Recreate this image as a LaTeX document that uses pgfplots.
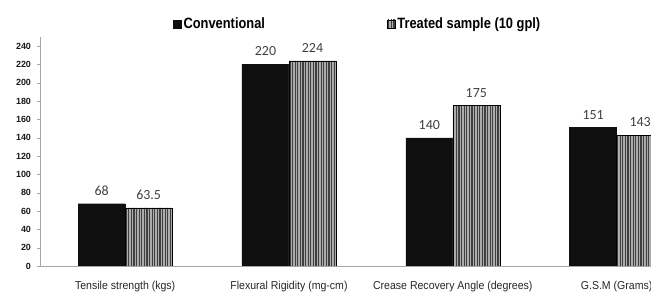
\documentclass[border=0pt]{standalone}
\usepackage{fontspec}
\setmainfont{Liberation Sans}
\newfontfamily\narrow{Liberation Sans}[FakeStretch=0.92]
\newfontfamily\legfont{Liberation Sans}[FakeStretch=0.86]
\newfontfamily\carl{Carlito}
\usepackage{pgfplots}
\pgfplotsset{compat=1.18}
\usetikzlibrary{patterns}
\pgfdeclarepatternformonly{myvlines}{\pgfpoint{-0.1bp}{-0.1bp}}{\pgfpoint{2.7bp}{2.7bp}}{\pgfpoint{2.6bp}{2.6bp}}{\pgfsetlinewidth{1.2bp}\pgfpathmoveto{\pgfpoint{1.3bp}{-0.1bp}}\pgfpathlineto{\pgfpoint{1.3bp}{2.7bp}}\pgfusepath{stroke}}
\definecolor{barblack}{HTML}{0F0F0F}
\begin{document}
\begin{tikzpicture}
\useasboundingbox (0,0) rectangle (651bp,292bp);
\begin{axis}[
  at={(40bp,26bp)}, anchor=south west,
  scale only axis, width=611bp, height=229bp,
  ymin=0, ymax=250, xmin=-0.52, xmax=3.21,
  ybar=0pt, bar width=47bp,
  axis x line*=bottom, axis y line*=left,
  axis line style={gray!70},
  ytick={0,20,...,240},
  xtick={0,1,2,3},
  xticklabels={Tensile strength (kgs), Flexural Rigidity (mg-cm), Crease Recovery Angle (degrees), G.S.M (Grams)},
  x tick style={draw=none},
  y tick style={gray!70},
  tick align=outside, major tick length=3bp,
  /pgf/number format/assume math mode=true,
  yticklabel style={font=\bfseries\fontsize{9}{10}\selectfont, text=black!90, xshift=-2.5bp},
  xticklabel style={font=\narrow\fontsize{11.5}{13}\selectfont, text=black!85, yshift=-9bp},
  nodes near coords,
  every node near coord/.append style={font=\carl\fontsize{14}{16}\selectfont, text=black!75, yshift=5bp},
  legend columns=2,
  legend style={draw=none, fill=none, at={(0.2177,1.057)}, anchor=west,
    font=\legfont\bfseries\fontsize{15}{17}\selectfont, inner sep=0pt,
    /tikz/every even column/.append style={column sep=120bp}},
  legend image code/.code={\draw[#1] (0bp,-4bp) rectangle (8bp,4bp);},
]
\addplot[fill=barblack, draw=barblack] coordinates {(0,68) (1,220) (2,140) (3,151)};
\addplot[fill=gray!65, draw=black, postaction={pattern=myvlines, pattern color=black!75}] coordinates {(0,63.5) (1,224) (2,175) (3,143)};
\legend{Conventional, Treated sample (10 gpl)}
\end{axis}
\end{tikzpicture}
\end{document}
